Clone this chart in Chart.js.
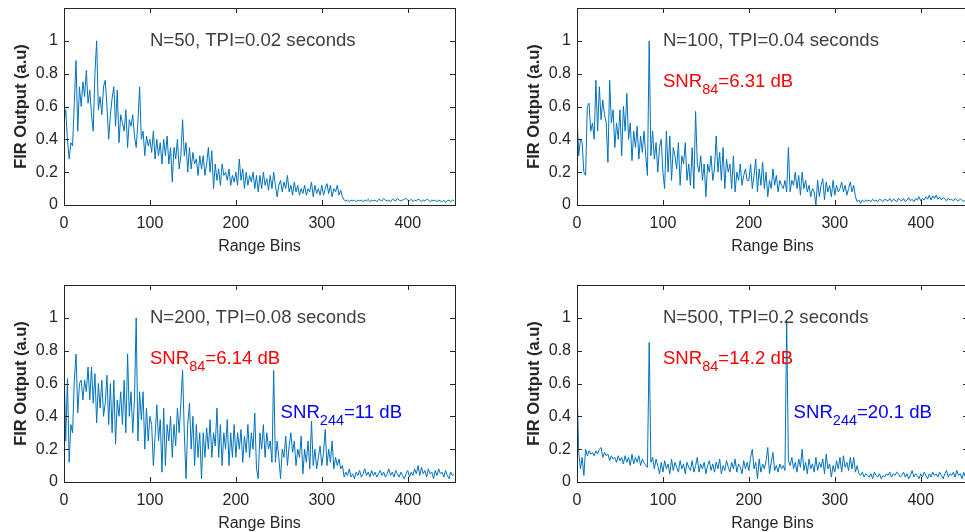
<!DOCTYPE html>
<html>
<head>
<meta charset="utf-8">
<script src="https://cdn.jsdelivr.net/npm/chart.js@4.4.1/dist/chart.umd.min.js"></script>
<style>
  html, body { margin: 0; padding: 0; background: #fff; }
  body { width: 965px; height: 532px; overflow: hidden; position: relative; }
  .panel { position: absolute; width: 470px; height: 260px; }
</style>
</head>
<body>
<div class="panel" style="left:0;top:0"><canvas id="c50" width="470" height="260"></canvas></div>
<div class="panel" style="left:513px;top:0"><canvas id="c100" width="470" height="260"></canvas></div>
<div class="panel" style="left:0;top:277px"><canvas id="c200" width="470" height="260"></canvas></div>
<div class="panel" style="left:513px;top:277px"><canvas id="c500" width="470" height="260"></canvas></div>
<script>
const xTicks = [0, 100, 200, 300, 400];
const yTicks = [0, 0.2, 0.4, 0.6, 0.8, 1];

// FIR output, every 2nd range bin (0..454)
const s50 = [
  0.50, 0.58, 0.40, 0.28, 0.38, 0.36, 0.62, 0.88, 0.45, 0.72,
  0.60, 0.75, 0.66, 0.82, 0.62, 0.70, 0.55, 0.45, 0.80, 1.00,
  0.58, 0.66, 0.55, 0.72, 0.76, 0.60, 0.40, 0.55, 0.65, 0.72,
  0.48, 0.70, 0.38, 0.55, 0.50, 0.45, 0.58, 0.35, 0.52, 0.48,
  0.55, 0.42, 0.35, 0.50, 0.72, 0.40, 0.45, 0.30, 0.42, 0.36,
  0.40, 0.32, 0.45, 0.28, 0.40, 0.30, 0.38, 0.25, 0.40, 0.30,
  0.42, 0.25, 0.35, 0.14, 0.35, 0.28, 0.40, 0.22, 0.30, 0.52,
  0.30, 0.38, 0.20, 0.35, 0.22, 0.32, 0.25, 0.28, 0.18, 0.30,
  0.22, 0.30, 0.18, 0.25, 0.35, 0.20, 0.33, 0.10, 0.25, 0.15,
  0.22, 0.12, 0.25, 0.18, 0.20, 0.15, 0.22, 0.12, 0.18, 0.14,
  0.20, 0.12, 0.28, 0.15, 0.22, 0.10, 0.20, 0.12, 0.18, 0.14,
  0.20, 0.10, 0.18, 0.08, 0.18, 0.10, 0.20, 0.12, 0.16, 0.09,
  0.18, 0.10, 0.20, 0.12, 0.05, 0.12, 0.15, 0.08, 0.14, 0.10,
  0.18, 0.08, 0.12, 0.06, 0.14, 0.08, 0.12, 0.06, 0.10, 0.07,
  0.12, 0.06, 0.10, 0.08, 0.14, 0.05, 0.12, 0.07, 0.10, 0.06,
  0.12, 0.06, 0.10, 0.13, 0.07, 0.12, 0.05, 0.10, 0.08, 0.12,
  0.06, 0.09, 0.05, 0.03, 0.025, 0.03, 0.02, 0.03, 0.025, 0.03,
  0.02, 0.03, 0.025, 0.03, 0.02, 0.03, 0.025, 0.035, 0.02, 0.03,
  0.025, 0.03, 0.02, 0.035, 0.03, 0.025, 0.04, 0.03, 0.025, 0.03,
  0.02, 0.035, 0.03, 0.025, 0.04, 0.03, 0.025, 0.03, 0.035, 0.04,
  0.03, 0.025, 0.035, 0.02, 0.03, 0.025, 0.035, 0.03, 0.02, 0.03,
  0.025, 0.035, 0.03, 0.02, 0.03, 0.025, 0.03, 0.02, 0.03, 0.025,
  0.02, 0.03, 0.015, 0.025, 0.03, 0.02, 0.03, 0.025
];
const s100 = [
  0.55, 0.30, 0.40, 0.38, 0.20, 0.18, 0.60, 0.62, 0.45, 0.50,
  0.40, 0.76, 0.45, 0.72, 0.52, 0.64, 0.55, 0.50, 0.26, 0.76,
  0.50, 0.58, 0.35, 0.50, 0.40, 0.58, 0.30, 0.60, 0.45, 0.68,
  0.40, 0.50, 0.27, 0.45, 0.35, 0.48, 0.28, 0.42, 0.32, 0.45,
  0.30, 0.18, 1.00, 0.30, 0.45, 0.28, 0.38, 0.20, 0.35, 0.40,
  0.20, 0.10, 0.45, 0.20, 0.42, 0.15, 0.35, 0.30, 0.22, 0.38,
  0.12, 0.30, 0.25, 0.38, 0.15, 0.25, 0.12, 0.35, 0.10, 0.57,
  0.25, 0.20, 0.30, 0.15, 0.25, 0.05, 0.25, 0.20, 0.30, 0.15,
  0.22, 0.42, 0.20, 0.32, 0.15, 0.35, 0.10, 0.28, 0.20, 0.25,
  0.10, 0.30, 0.08, 0.20, 0.15, 0.25, 0.12, 0.18, 0.22, 0.15,
  0.15, 0.25, 0.10, 0.18, 0.28, 0.08, 0.22, 0.12, 0.26, 0.10,
  0.20, 0.05, 0.15, 0.10, 0.22, 0.12, 0.18, 0.08, 0.15, 0.12,
  0.10, 0.15, 0.08, 0.35, 0.08, 0.15, 0.12, 0.20, 0.10, 0.18,
  0.06, 0.20, 0.10, 0.15, 0.08, 0.12, 0.05, 0.10, 0.08, 0.00,
  0.15, 0.05, 0.12, 0.16, 0.03, 0.14, 0.08, 0.12, 0.05, 0.15,
  0.06, 0.12, 0.08, 0.10, 0.14, 0.08, 0.12, 0.06, 0.10, 0.14,
  0.08, 0.12, 0.05, 0.02, 0.03, 0.01, 0.03, 0.02, 0.03, 0.025,
  0.03, 0.02, 0.035, 0.025, 0.03, 0.02, 0.035, 0.03, 0.02, 0.035,
  0.03, 0.025, 0.04, 0.02, 0.035, 0.03, 0.02, 0.04, 0.03, 0.025,
  0.04, 0.02, 0.03, 0.045, 0.025, 0.035, 0.02, 0.04, 0.03, 0.05,
  0.025, 0.04, 0.03, 0.05, 0.035, 0.06, 0.03, 0.055, 0.04, 0.06,
  0.035, 0.05, 0.03, 0.045, 0.04, 0.025, 0.04, 0.03, 0.035, 0.025,
  0.04, 0.03, 0.025, 0.035, 0.03, 0.02, 0.03, 0.025
];
const s200 = [
  0.73, 0.25, 0.63, 0.12, 0.35, 0.30, 0.62, 0.78, 0.42, 0.60,
  0.62, 0.50, 0.62, 0.55, 0.70, 0.50, 0.70, 0.48, 0.66, 0.36,
  0.60, 0.45, 0.62, 0.40, 0.48, 0.65, 0.35, 0.60, 0.30, 0.62,
  0.23, 0.50, 0.40, 0.55, 0.35, 0.62, 0.30, 0.78, 0.40, 0.55,
  0.30, 0.50, 1.00, 0.25, 0.55, 0.38, 0.55, 0.20, 0.45, 0.25,
  0.40, 0.35, 0.10, 0.28, 0.47, 0.25, 0.38, 0.06, 0.45, 0.10,
  0.35, 0.25, 0.40, 0.15, 0.35, 0.22, 0.45, 0.30, 0.48, 0.68,
  0.30, 0.02, 0.35, 0.48, 0.20, 0.40, 0.10, 0.35, 0.15, 0.30,
  0.02, 0.30, 0.15, 0.33, 0.20, 0.38, 0.15, 0.30, 0.22, 0.45,
  0.15, 0.35, 0.10, 0.30, 0.20, 0.38, 0.10, 0.30, 0.15, 0.35,
  0.15, 0.30, 0.20, 0.32, 0.12, 0.28, 0.18, 0.35, 0.15, 0.30,
  0.20, 0.42, 0.08, 0.02, 0.30, 0.20, 0.35, 0.15, 0.30, 0.20,
  0.25, 0.12, 0.68, 0.12, 0.25, 0.15, 0.02, 0.20, 0.15, 0.28,
  0.10, 0.22, 0.30, 0.18, 0.25, 0.10, 0.20, 0.15, 0.28, 0.05,
  0.20, 0.12, 0.25, 0.08, 0.37, 0.10, 0.20, 0.08, 0.15, 0.22,
  0.10, 0.18, 0.32, 0.10, 0.20, 0.12, 0.25, 0.08, 0.15, 0.10,
  0.14, 0.08, 0.10, 0.03, 0.06, 0.04, 0.08, 0.03, 0.05, 0.02,
  0.06, 0.04, 0.07, 0.03, 0.05, 0.08, 0.04, 0.06, 0.03, 0.07,
  0.04, 0.06, 0.03, 0.05, 0.07, 0.04, 0.06, 0.03, 0.05, 0.08,
  0.04, 0.06, 0.03, 0.07, 0.05, 0.03, 0.06, 0.04, 0.02, 0.05,
  0.07, 0.03, 0.06, 0.04, 0.08, 0.05, 0.10, 0.04, 0.09, 0.05,
  0.07, 0.03, 0.08, 0.05, 0.06, 0.02, 0.07, 0.04, 0.08, 0.05,
  0.06, 0.03, 0.07, 0.04, 0.02, 0.06, 0.04, 0.05
];
const s500 = [
  0.60, 0.18, 0.08, 0.15, 0.04, 0.20, 0.16, 0.19, 0.17, 0.18,
  0.16, 0.19, 0.17, 0.20, 0.21, 0.15, 0.18, 0.16, 0.17, 0.13,
  0.16, 0.14, 0.15, 0.12, 0.16, 0.13, 0.15, 0.11, 0.16, 0.12,
  0.15, 0.10, 0.17, 0.11, 0.15, 0.12, 0.16, 0.10, 0.14, 0.12,
  0.10, 0.09, 0.85, 0.12, 0.15, 0.08, 0.14, 0.10, 0.05, 0.12,
  0.06, 0.13, 0.08, 0.11, 0.05, 0.14, 0.07, 0.12, 0.09, 0.06,
  0.13, 0.08, 0.11, 0.05, 0.12, 0.09, 0.07, 0.13, 0.06, 0.10,
  0.15, 0.06, 0.11, 0.08, 0.12, 0.05, 0.10, 0.13, 0.07, 0.11,
  0.06, 0.12, 0.08, 0.14, 0.05, 0.10, 0.07, 0.13, 0.09, 0.06,
  0.12, 0.08, 0.14, 0.06, 0.11, 0.09, 0.05, 0.13, 0.08, 0.12,
  0.07, 0.15, 0.20, 0.08, 0.12, 0.02, 0.14, 0.06, 0.11, 0.08,
  0.13, 0.21, 0.05, 0.12, 0.18, 0.07, 0.10, 0.06, 0.11, 0.08,
  0.10, 0.07, 0.98, 0.13, 0.10, 0.15, 0.08, 0.12, 0.06, 0.14,
  0.09, 0.20, 0.07, 0.12, 0.05, 0.14, 0.08, 0.11, 0.06, 0.15,
  0.07, 0.12, 0.09, 0.14, 0.05, 0.17, 0.08, 0.11, 0.03, 0.10,
  0.06, 0.13, 0.08, 0.15, 0.06, 0.16, 0.09, 0.12, 0.07, 0.15,
  0.08, 0.15, 0.06, 0.10, 0.05, 0.04, 0.06, 0.03, 0.05, 0.04,
  0.03, 0.05, 0.02, 0.06, 0.04, 0.03, 0.05, 0.02, 0.04, 0.03,
  0.05, 0.04, 0.06, 0.03, 0.05, 0.04, 0.06, 0.05, 0.03, 0.04,
  0.06, 0.03, 0.05, 0.02, 0.04, 0.07, 0.03, 0.05, 0.04, 0.02,
  0.05, 0.03, 0.06, 0.04, 0.02, 0.05, 0.03, 0.06, 0.04, 0.05,
  0.03, 0.06, 0.04, 0.02, 0.05, 0.07, 0.03, 0.05, 0.04, 0.06,
  0.03, 0.07, 0.04, 0.05, 0.02, 0.06, 0.03, 0.05
];
const bins = s50.map((_, i) => i * 2);

const FONT = '"Liberation Sans", Arial, sans-serif';
const INK = '#262626';

// text notes in data coordinates: [main, subscript, rest]
const panels = [
  { id: 'c50', values: s50, notes: [
    { x: 100, y: 1.0, color: '#404040', parts: ['N=50, TPI=0.02 seconds'] } ] },
  { id: 'c100', values: s100, notes: [
    { x: 100, y: 1.0, color: '#404040', parts: ['N=100, TPI=0.04 seconds'] },
    { x: 100, y: 0.75, color: '#ff0000', parts: ['SNR', '84', '=6.31 dB'] } ] },
  { id: 'c200', values: s200, notes: [
    { x: 100, y: 1.0, color: '#404040', parts: ['N=200, TPI=0.08 seconds'] },
    { x: 100, y: 0.75, color: '#ff0000', parts: ['SNR', '84', '=6.14 dB'] },
    { x: 252, y: 0.42, color: '#0000ff', parts: ['SNR', '244', '=11 dB'] } ] },
  { id: 'c500', values: s500, notes: [
    { x: 100, y: 1.0, color: '#404040', parts: ['N=500, TPI=0.2 seconds'] },
    { x: 100, y: 0.75, color: '#ff0000', parts: ['SNR', '84', '=14.2 dB'] },
    { x: 252, y: 0.42, color: '#0000ff', parts: ['SNR', '244', '=20.1 dB'] } ] }
];

// matlab-ish box with inward ticks, plus the text notes
const boxPlugin = {
  id: 'box',
  afterDatasetsDraw(chart, args, opts) {
    const { ctx, chartArea: a, scales: { x, y } } = chart;
    ctx.save();
    ctx.strokeStyle = INK;
    ctx.lineWidth = 1;
    ctx.strokeRect(Math.round(a.left) + 0.5, Math.round(a.top) + 0.5,
      Math.round(a.right - a.left), Math.round(a.bottom - a.top));
    ctx.beginPath();
    xTicks.forEach(v => {
      const px = Math.round(x.getPixelForValue(v)) + 0.5;
      ctx.moveTo(px, a.bottom); ctx.lineTo(px, a.bottom - 5);
      ctx.moveTo(px, a.top); ctx.lineTo(px, a.top + 5);
    });
    yTicks.forEach(v => {
      const py = Math.round(y.getPixelForValue(v)) + 0.5;
      ctx.moveTo(a.left, py); ctx.lineTo(a.left + 5, py);
      ctx.moveTo(a.right, py); ctx.lineTo(a.right - 5, py);
    });
    ctx.stroke();

    ctx.textBaseline = 'middle';
    ctx.textAlign = 'left';
    (opts.notes || []).forEach(n => {
      let px = x.getPixelForValue(n.x);
      const py = y.getPixelForValue(n.y);
      ctx.fillStyle = n.color;
      n.parts.forEach((t, i) => {
        ctx.font = (i === 1 ? '14.5px ' : '18.6px ') + FONT;
        ctx.fillText(t, px, i === 1 ? py + 8 : py);
        px += ctx.measureText(t).width;
      });
    });
    ctx.restore();
  }
};

panels.forEach(p => {
  new Chart(document.getElementById(p.id), {
    type: 'line',
    data: {
      datasets: [{
        data: bins.map((b, i) => ({ x: b, y: p.values[i] })),
        borderColor: '#0072BD',
        borderWidth: 1,
        pointRadius: 0,
        tension: 0
      }]
    },
    options: {
      responsive: false,
      animation: false,
      devicePixelRatio: 1,
      layout: { padding: { top: 8, right: 15, left: 0, bottom: 0 } },
      plugins: { legend: { display: false }, tooltip: { enabled: false }, box: { notes: p.notes } },
      scales: {
        x: {
          type: 'linear', min: 0, max: 455,
          afterBuildTicks: s => { s.ticks = xTicks.map(v => ({ value: v })); },
          afterFit: s => { s.height = 55; s.paddingLeft = 0; s.paddingRight = 0; },
          grid: { display: false, drawTicks: false },
          border: { display: false },
          ticks: { font: { size: 16, family: FONT }, color: INK, padding: 9, maxRotation: 0 },
          title: { display: true, text: 'Range Bins', color: INK,
            font: { size: 16, family: FONT }, padding: { top: 0, bottom: 4 } }
        },
        y: {
          min: 0, max: 1.2,
          afterBuildTicks: s => { s.ticks = yTicks.map(v => ({ value: v })); },
          afterFit: s => { s.width = 64; s.paddingTop = 0; s.paddingBottom = 0; },
          grid: { display: false, drawTicks: false },
          border: { display: false },
          ticks: { font: { size: 16, family: FONT }, color: INK, padding: 6, callback: v => String(v) },
          title: { display: true, text: 'FIR Output (a.u)', color: INK,
            font: { size: 16.5, weight: 'bold', family: FONT }, padding: { top: 12, bottom: 0 } }
        }
      }
    },
    plugins: [boxPlugin]
  });
});
</script>
</body>
</html>
